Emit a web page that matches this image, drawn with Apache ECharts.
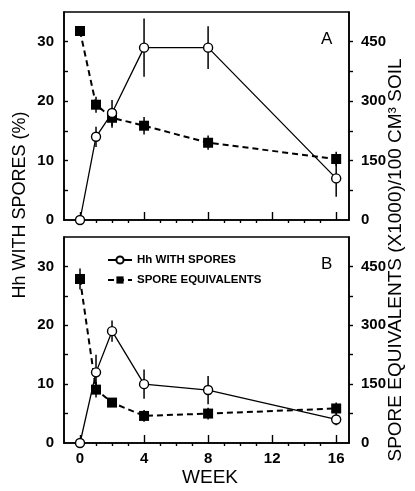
<!DOCTYPE html>
<html>
<head>
<meta charset="utf-8">
<script src="https://cdn.jsdelivr.net/npm/echarts@6/dist/echarts.min.js"></script>
<style>html,body{margin:0;padding:0;background:#fff}#c{width:415px;height:491px}</style>
</head>
<body>
<div id="c"></div>
<script>
// ---- data ----
const weeks = [0, 1, 2, 4, 8, 16];
// Panel A
const hhA = [0, 14, 18, 29, 29, 7];
const hhAErr = [0, 1.7, 2.2, 4.9, 3.6, 3.1];
const spA = [477, 291, 258, 238, 195, 154];
const spAErr = [8, 20, 25, 22, 18, 18];
// Panel B
const hhB = [0, 12, 19, 10, 9, 4];
const hhBErr = [0, 3, 1.8, 2.5, 2.4, 1];
const spB = [418, 136, 103, 69, 75, 88];
const spBErr = [27, 20, 10, 15, 15, 15];
// ticks
const xLabelTicks = [0, 4, 8, 12, 16];
const xMinorTicks = [1, 2, 3, 5, 6, 7, 9, 10, 11, 13, 14, 15];
const leftLabels = [0, 10, 20, 30];
const leftTicks = [5, 10, 15, 20, 25, 30];
const rightLabels = [0, 150, 300, 450];
const rightTicks = [75, 150, 225, 300, 375, 450];
const nameHh = 'Hh WITH SPORES';
const nameSp = 'SPORE EQUIVALENTS';

const FONT = 'Liberation Sans, Arial, sans-serif';
const lab = {fontFamily: FONT, fontWeight: 'bold', fontSize: 15, color: '#000'};

function pairs(xs, ys) { return xs.map((x, i) => [x, ys[i]]); }
function errs(xs, ys, es) { return xs.map((x, i) => [x, ys[i], es[i]]); }

function xAxes(g, showLabels) {
  return [
    {type: 'value', gridIndex: g, min: -1, max: 16.8, splitLine: {show: false},
     axisLine: {show: true, onZero: false, lineStyle: {color: '#000', width: 1.6}},
     axisTick: {show: true, inside: true, length: 8, customValues: xLabelTicks, lineStyle: {color: '#000', width: 1.4}},
     axisLabel: {show: showLabels, customValues: xLabelTicks, margin: 8, ...lab}},
    {type: 'value', gridIndex: g, min: -1, max: 16.8, splitLine: {show: false},
     axisLine: {show: false},
     axisTick: {show: true, inside: true, length: 3, customValues: xMinorTicks, lineStyle: {color: '#000', width: 1.4}},
     axisLabel: {show: false}}
  ];
}
function yAxes(g) {
  return [
    {type: 'value', gridIndex: g, min: 0, max: 35, position: 'left', splitLine: {show: false},
     axisLine: {show: true, onZero: false, lineStyle: {color: '#000', width: 1.6}},
     axisTick: {show: true, inside: true, length: 4, customValues: leftTicks, lineStyle: {color: '#000', width: 1.4}},
     axisLabel: {customValues: leftLabels, margin: 10, ...lab}},
    {type: 'value', gridIndex: g, min: 0, max: 525, position: 'right', splitLine: {show: false},
     axisLine: {show: true, onZero: false, lineStyle: {color: '#000', width: 1.6}},
     axisTick: {show: true, inside: false, length: 4, customValues: rightTicks, lineStyle: {color: '#000', width: 1.4}},
     axisLabel: {customValues: rightLabels, margin: 12, ...lab}}
  ];
}

function errSeries(g, yIdx, data) {
  return {
    type: 'custom', xAxisIndex: 2 * g, yAxisIndex: yIdx, z: 1, silent: true,
    data: data,
    renderItem: function (params, api) {
      const x = api.value(0), y = api.value(1), e = api.value(2);
      const p1 = api.coord([x, y - e]);
      const p2 = api.coord([x, y + e]);
      return {type: 'line', shape: {x1: p1[0], y1: p1[1], x2: p2[0], y2: p2[1]},
              style: {stroke: '#000', lineWidth: 1.5}};
    }
  };
}
function hhSeries(g, data) {
  return {type: 'line', name: nameHh, xAxisIndex: 2 * g, yAxisIndex: 2 * g, z: 5,
    data: data, symbol: 'circle', symbolSize: 9,
    lineStyle: {color: '#000', width: 1.3, type: 'solid'},
    itemStyle: {color: '#fff', borderColor: '#000', borderWidth: 1.4}};
}
function spSeries(g, data) {
  return {type: 'line', name: nameSp, xAxisIndex: 2 * g, yAxisIndex: 2 * g + 1, z: 4,
    data: data, symbol: 'rect', symbolSize: 10,
    lineStyle: {color: '#000', width: 2, type: [6, 4]},
    itemStyle: {color: '#000', borderColor: '#000', borderWidth: 0}};
}

const chart = echarts.init(document.getElementById('c'), null, {renderer: 'canvas'});
chart.setOption({
  animation: false,
  backgroundColor: '#fff',
  grid: [
    {left: 64, width: 285, top: 12, height: 208, show: true, borderColor: '#000', borderWidth: 1.5, backgroundColor: 'transparent'},
    {left: 64, width: 285, top: 237, height: 206, show: true, borderColor: '#000', borderWidth: 1.5, backgroundColor: 'transparent'}
  ],
  xAxis: [...xAxes(0, false), ...xAxes(1, true)],
  yAxis: [...yAxes(0), ...yAxes(1)],
  legend: {
    data: [nameHh, nameSp], orient: 'vertical', left: 102, top: 249,
    itemWidth: 24, itemHeight: 9, itemGap: 8,
    textStyle: {fontFamily: 'Liberation Sans Narrow, Liberation Sans, Arial', fontWeight: 'bold', fontSize: 11.5, color: '#000'}
  },
  series: [
    errSeries(0, 0, errs(weeks, hhA, hhAErr)),
    errSeries(0, 1, errs(weeks, spA, spAErr)),
    hhSeries(0, pairs(weeks, hhA)),
    spSeries(0, pairs(weeks, spA)),
    errSeries(1, 2, errs(weeks, hhB, hhBErr)),
    errSeries(1, 3, errs(weeks, spB, spBErr)),
    hhSeries(1, pairs(weeks, hhB)),
    spSeries(1, pairs(weeks, spB))
  ],
  graphic: [
    {type: 'text', left: 321, top: 31, style: {text: 'A', font: '17px ' + FONT, fill: '#000'}},
    {type: 'text', left: 321, top: 256, style: {text: 'B', font: '17px ' + FONT, fill: '#000'}},
    {type: 'text', x: 20, y: 205, rotation: Math.PI / 2,
     style: {text: 'Hh WITH SPORES (%)', font: '18px ' + FONT, fill: '#000', align: 'center', verticalAlign: 'middle'}},
    {type: 'text', x: 396, y: 260, rotation: Math.PI / 2,
     style: {text: 'SPORE EQUIVALENTS (X1000)/100 CM³ SOIL', font: '19px ' + FONT, fill: '#000', align: 'center', verticalAlign: 'middle'}},
    {type: 'text', x: 210, y: 478,
     style: {text: 'WEEK', font: '19px ' + FONT, fill: '#000', align: 'center', verticalAlign: 'middle'}}
  ]
});
</script>
</body>
</html>
